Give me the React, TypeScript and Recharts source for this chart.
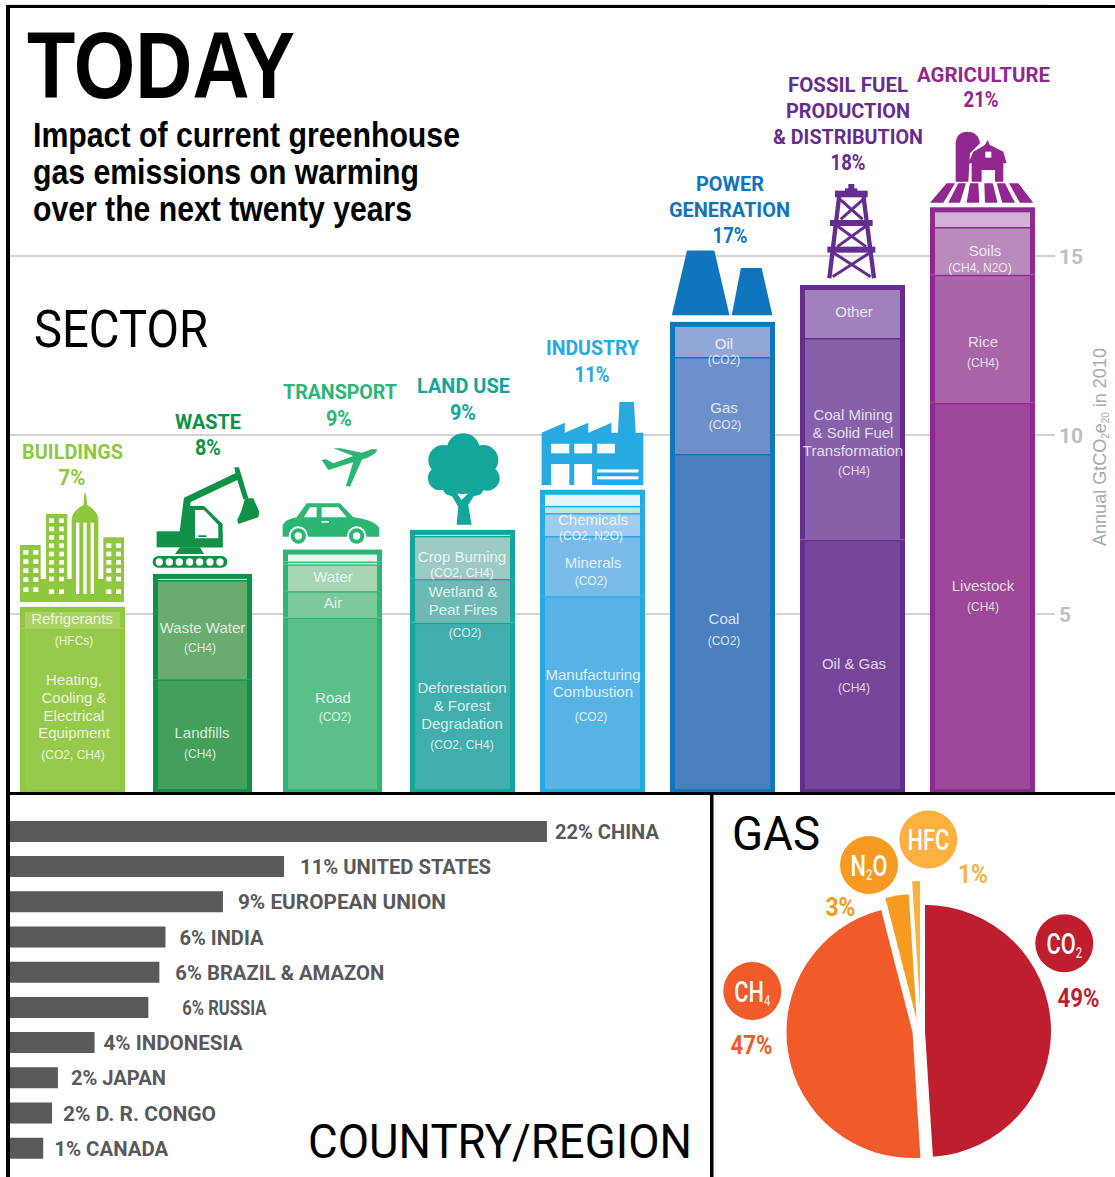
import { BarChart, Bar, XAxis, YAxis, CartesianGrid, LabelList, PieChart, Pie, Cell } from "recharts";

const DISPLAY = 'Roboto, "Liberation Sans", Arial, sans-serif';
const ARIAL = '"Liberation Sans", Arial, sans-serif';

// sector bars, bottom segment first, GtCO2e20
const sectors = ["Buildings", "Waste", "Transport", "Land use", "Industry", "Power generation", "Fossil fuel", "Agriculture"];
const tier1 = [4.6, 3.18, 4.9, 4.76, 5.5, 9.47, 7.08, 10.9];
const tier2 = [0.6, 2.77, 0.74, 1.22, 1.68, 2.71, 5.63, 3.58];
const tier3 = [0, 0.17, 0.75, 1.2, 0.64, 0.98, 1.48, 1.33];
const tier4 = [0, 0, 0.08, 0.17, 0.2, 0, 0, 0.55];
const tier5 = [0, 0, 0.33, 0, 0.45, 0, 0, 0];
const tiers = [tier1, tier2, tier3, tier4, tier5];

const sectorBorders = ["#8fc73e", "#0f9148", "#2cb673", "#14a69b", "#27aae1", "#0f75bc", "#662d91", "#92278f"];
const tierFills = [
  ["#97ca4c", "#43a05a", "#5bbf8a", "#40aead", "#57b3e6", "#4a80c0", "#764499", "#9c4898"],
  ["#a9d163", "#6aab70", "#7dc79c", "#6fb9b4", "#79bbe8", "#6c90ca", "#8660a9", "#a964a8"],
  ["#a9d163", "#d3e8d6", "#a5d5b3", "#9ccbc6", "#a0cdee", "#8fa8d8", "#a081bb", "#ba8abd"],
  ["#a9d163", "#d3e8d6", "#cfe9d8", "#d5ebe8", "#c0e0f5", "#8fa8d8", "#a081bb", "#d0b2d4"],
  ["#a9d163", "#d3e8d6", "#e8f5ec", "#d5ebe8", "#e8f4fb", "#8fa8d8", "#a081bb", "#d0b2d4"],
];
const barInsets = [0, 3, 3, 0, 0, 0, 0, 0];

const sectorData = sectors.map((name, i) => ({
  name,
  tier1: tier1[i],
  tier2: tier2[i],
  tier3: tier3[i],
  tier4: tier4[i],
  tier5: tier5[i],
}));

// country bars
const countries = ["China", "United States", "European Union", "India", "Brazil & Amazon", "Russia", "Indonesia", "Japan", "D. R. Congo", "Canada"];
const countryValues = [22, 11.25, 8.75, 6.4, 6.15, 5.7, 3.5, 2, 1.76, 1.4];
const countryLabels = ["22% CHINA", "11% UNITED STATES", "9% EUROPEAN UNION", "6% INDIA", "6% BRAZIL & AMAZON", "6% RUSSIA", "4% INDONESIA", "2% JAPAN", "2% D. R. CONGO", "1% CANADA"];
const countryLabelGaps = [8, 16, 15, 14, 16, 34, 9, 13, 11, 11];
const countryLabelWidths = [104, 191, 208, 84, 209, 84, 139, 95, 153, 114];
const countryData = countries.map((name, i) => ({ name, value: countryValues[i], label: countryLabels[i] }));

// gas slices, each pulled out of the pie by its own centre
const gases = ["CO2", "CH4", "N2O", "HFC"];
const gasShares = [49, 47, 3, 1];
const gasColors = ["#be1e2d", "#f15a29", "#f79a22", "#fbb040"];
const gasCentres = [
  [213, 238],
  [200.5, 239],
  [204.7, 227],
  [208, 214],
];
const gasData = gases.map((name, i) => ({ name, value: gasShares[i] }));

const headers: [string, number, number, number, string][] = [
  ["BUILDINGS", 72.5, 458.5, 101, sectorBorders[0]],
  ["7%", 72, 485, 27, sectorBorders[0]],
  ["WASTE", 208, 429, 66, sectorBorders[1]],
  ["8%", 208, 455, 26, sectorBorders[1]],
  ["TRANSPORT", 340, 399, 114, sectorBorders[2]],
  ["9%", 339, 426, 26, sectorBorders[2]],
  ["LAND USE", 463.5, 393, 93, sectorBorders[3]],
  ["9%", 463, 420, 26, sectorBorders[3]],
  ["INDUSTRY", 592.5, 355, 93, sectorBorders[4]],
  ["11%", 592, 382, 35, sectorBorders[4]],
  ["POWER", 730, 191, 68, sectorBorders[5]],
  ["GENERATION", 729.5, 217, 121, sectorBorders[5]],
  ["17%", 730, 243, 35, sectorBorders[5]],
  ["FOSSIL FUEL", 848, 92, 120, sectorBorders[6]],
  ["PRODUCTION", 848, 118, 124, sectorBorders[6]],
  ["& DISTRIBUTION", 848, 144, 150, sectorBorders[6]],
  ["18%", 848, 170, 35, sectorBorders[6]],
  ["AGRICULTURE", 983.5, 82, 133, sectorBorders[7]],
  ["21%", 981, 107, 35, sectorBorders[7]],
];

// text inside the bars: centre x, centre y, text, small
const segmentLabels: [number, number, string, boolean][] = [
  [72, 618, "Refrigerants", false], [74, 641, "(HFCs)", true], [74, 679, "Heating,", false], [74, 697, "Cooling &", false],
  [74, 715, "Electrical", false], [74, 732, "Equipment", false], [73, 755, "(CO2, CH4)", true],
  [202.5, 627, "Waste Water", false], [200, 648, "(CH4)", true], [202, 732, "Landfills", false], [200, 754, "(CH4)", true],
  [333, 576, "Water", false], [333, 602, "Air", false], [333, 697, "Road", false], [335, 717, "(CO2)", true],
  [462, 556, "Crop Burning", false], [462, 573, "(CO2, CH4)", true], [463, 591, "Wetland &", false], [463, 609, "Peat Fires", false],
  [465, 633, "(CO2)", true], [462, 687, "Deforestation", false], [462, 705, "& Forest", false], [462, 723, "Degradation", false], [462, 745, "(CO2, CH4)", true],
  [593, 519, "Chemicals", false], [591, 536, "(CO2, N2O)", true], [593, 562, "Minerals", false], [591, 581, "(CO2)", true],
  [593, 674, "Manufacturing", false], [593, 691, "Combustion", false], [591, 717, "(CO2)", true],
  [724, 343, "Oil", false], [724, 360, "(CO2)", true], [724, 407, "Gas", false], [725, 425, "(CO2)", true], [724, 618, "Coal", false], [724, 641, "(CO2)", true],
  [854, 311, "Other", false], [853, 414, "Coal Mining", false], [853, 432, "& Solid Fuel", false], [853, 450, "Transformation", false],
  [854, 471, "(CH4)", true], [854, 663, "Oil & Gas", false], [854, 688, "(CH4)", true],
  [985, 250, "Soils", false], [980, 268, "(CH4, N2O)", true], [983, 341, "Rice", false], [983, 363, "(CH4)", true], [983, 585, "Livestock", false], [983, 607, "(CH4)", true],
];

const tierShape = (tier: number) => (p: any) => {
  const { x, y, width, height, index } = p;
  if (!height || height <= 0) return <g />;
  const isTop = tiers.slice(tier + 1).every((t) => !t[index]);
  const inset = barInsets[index];
  const topGap = isTop ? 5 : 1.5;
  const bottomGap = tier === 0 ? 4 : 0;
  return (
    <g>
      <rect x={x + inset} y={y} width={width - inset * 2} height={height} fill={sectorBorders[index]} />
      <rect
        x={x + inset + 5}
        y={y + topGap}
        width={width - inset * 2 - 10}
        height={Math.max(height - topGap - bottomGap, 0)}
        fill={tierFills[tier][index]}
      />
    </g>
  );
};

const countryLabel = (p: any) => {
  const { x, y, width, height, index } = p;
  return (
    <text
      x={x + width + countryLabelGaps[index]}
      y={y + height / 2 + 7.5}
      fontFamily={DISPLAY}
      fontWeight={700}
      fontSize={21}
      fill="#58595b"
      textLength={countryLabelWidths[index]}
      lengthAdjust="spacingAndGlyphs"
    >
      {countryLabels[index]}
    </text>
  );
};

function Fit({ x, y, w, size, fill = "#000", weight = 700, family = DISPLAY, anchor = "start", children }: any) {
  return (
    <text x={x} y={y} fontSize={size} fill={fill} fontWeight={weight} fontFamily={family} textAnchor={anchor} textLength={w} lengthAdjust="spacingAndGlyphs">
      {children}
    </text>
  );
}

function Badge({ cx, cy, fill, main, sub, tail }: any) {
  return (
    <g>
      <circle cx={cx} cy={cy} r={29} fill={fill} />
      <g transform={`translate(${cx} ${cy + 10.5}) scale(0.75 1)`}>
        <text textAnchor="middle" fontFamily={DISPLAY} fontWeight={500} fontSize={29} fill="#fff">
          {main}
          {sub && (
            <tspan fontSize={15} dy={4} fillOpacity={0.85}>
              {sub}
            </tspan>
          )}
          {tail && <tspan dy={-4}>{tail}</tspan>}
        </text>
      </g>
    </g>
  );
}

function Windows({ xs, ys, w, h }: any) {
  return xs.flatMap((x: number) => ys.map((y: number) => <rect key={`${x}-${y}`} x={x} y={y} width={w} height={h} fill="#fff" />));
}

function Icons() {
  return (
    <g>
      {/* icons drawn in the 3x crop coordinates */}
      <g transform="translate(0 430) scale(0.3333)">
        <g fill={sectorBorders[0]}>
          <rect x={60} y={447} width={312} height={69} />
          <rect x={60} y={345} width={62} height={120} />
          <rect x={138} y={252} width={64} height={230} />
          <path d="M215 490 V265 Q220 240 250 225 L254 190 L258 190 L262 225 Q290 240 295 265 V490 Z" />
          <rect x={310} y={322} width={62} height={140} />
        </g>
        <Windows xs={[70, 100]} ys={[360, 388, 415, 442, 472]} w={15} h={14} />
        <Windows xs={[147, 177]} ys={[265, 290, 315, 340, 365, 390, 415, 440, 478]} w={15} h={14} />
        <Windows xs={[228, 250, 272]} ys={[278]} w={10} h={214} />
        <Windows xs={[319, 348]} ys={[340, 365, 390, 415, 440, 478]} w={15} h={14} />
        <rect x={60} y={495} width={312} height={21} fill={sectorBorders[0]} />

        <g fill={sectorBorders[1]}>
          <rect x={458} y={378} width={224} height={35} rx={17} />
          <rect x={470} y={304} width={198} height={48} />
          <path d="M525 372 L540 352 H600 L612 372 Z" />
          <path d="M533 352 L552 203 L706 130 L703 112 L717 112 L745 205 L730 208 L712 150 L572 216 L555 352 Z" />
          <path d="M570 228 H612 L668 282 V352 H545 Z" />
          <path d="M735 205 L760 205 L778 245 L775 262 L715 282 L712 270 L725 240 Z" />
        </g>
        <path d="M585 240 H612 L655 285 V325 H585 Z" fill="#fff" />
        <rect x={595} y={316} width={25} height={5} fill={sectorBorders[1]} />
        {[478, 508, 538, 569, 599, 630, 660].map((cx) => (
          <circle key={cx} cx={cx} cy={396} r={11} fill="#fff" />
        ))}

        <g fill={sectorBorders[2]}>
          <path d="M848 320 V285 Q855 268 890 262 L920 220 H1020 L1060 262 Q1125 270 1138 295 V320 Z" />
          <path d="M1132 58 Q1130 72 1100 84 L985 120 L965 90 L978 88 L1000 100 L1060 78 L1000 55 H1022 L1085 68 L1115 58 Z" />
          <path d="M1060 95 L1087 86 L1050 170 L1038 168 Z" />
        </g>
        <path d="M912 262 L930 232 H950 V262 Z M965 232 H1015 L1040 262 H965 Z" fill="#fff" />
        <rect x={965} y={273} width={22} height={5} fill="#fff" />
        {[895, 1070].map((cx) => (
          <g key={cx}>
            <circle cx={cx} cy={318} r={29} fill="#fff" />
            <circle cx={cx} cy={318} r={23} fill={sectorBorders[2]} />
            <circle cx={cx} cy={318} r={11} fill="#fff" />
          </g>
        ))}

        <g fill={sectorBorders[3]}>
          {[
            [1390, 60, 50],
            [1330, 90, 45],
            [1450, 90, 45],
            [1320, 145, 36],
            [1462, 145, 37],
            [1390, 130, 62],
            [1355, 170, 28],
            [1425, 170, 28],
          ].map(([cx, cy, r]) => (
            <circle key={`${cx}-${cy}`} cx={cx} cy={cy} r={r} />
          ))}
          <path d="M1370 284 L1375 230 L1345 180 L1360 175 L1385 210 L1415 180 L1430 185 L1405 225 L1415 284 Z" />
        </g>
      </g>

      <g transform="translate(520 200) scale(0.3795 0.3827)">
        <path
          d="M57 745 V608 L118 582 V608 L180 582 V608 L241 582 V608 H258 L262 528 H300 L305 608 H325 V745 H190 V690 H143 V745 H130 V690 H82 V745 Z"
          fill={sectorBorders[4]}
        />
        <rect x={82} y={637} width={48} height={25} fill="#fff" />
        <rect x={143} y={637} width={47} height={25} fill="#fff" />
        <rect x={203} y={637} width={47} height={25} fill="#fff" />
        <rect x={203} y={704} width={109} height={8} fill="#fff" />
        <rect x={203} y={722} width={109} height={8} fill="#fff" />
        <path d="M400 301 L440 132 H512 L552 301 Z M558 301 L582 178 H637 L665 301 Z" fill={sectorBorders[5]} />
      </g>

      <g transform="translate(800 120) scale(0.3333)">
        <g stroke={sectorBorders[6]} strokeWidth={9} fill="none">
          <path d="M118 225 L88 475 M190 225 L222 475" strokeWidth={13} />
          <path d="M122 240 L188 298 M188 240 L122 298 M112 318 L198 380 M198 318 L112 380 M100 398 L212 470 M210 398 L98 470" />
        </g>
        <g fill={sectorBorders[6]}>
          <rect x={105} y={212} width={98} height={20} />
          <rect x={135} y={205} width={37} height={15} />
          <rect x={145} y={192} width={18} height={20} />
          <rect x={90} y={300} width={128} height={18} />
          <rect x={82} y={380} width={144} height={18} />
        </g>
        <g fill={sectorBorders[7]}>
          <path d="M467 185 V70 Q470 35 502 35 Q535 35 540 70 L510 100 L505 185 Z" />
          <path d="M505 130 L520 95 L555 75 L563 60 L570 75 L610 95 L620 130 H610 V185 H585 V150 H545 V185 H515 V130 Z" />
          <path d="M440 190 H465 L430 248 H390 Z M475 190 H498 L480 248 H445 Z M510 190 H535 L538 248 H500 Z M553 190 H578 L593 248 H555 Z M590 190 H615 L645 248 H607 Z M627 190 H655 L700 248 H660 Z" />
        </g>
        <rect x={556} y={95} width={18} height={18} fill="#fff" />
      </g>
    </g>
  );
}

export default function App() {
  return (
    <div style={{ position: "absolute", left: 0, top: 0, width: 1115, height: 1177, background: "#fff", overflow: "hidden" }}>
      <div style={{ position: "absolute", left: 0, top: 0 }}>
        <BarChart width={1115} height={793} data={sectorData} margin={{ top: 5.4, right: 8, bottom: 0, left: 7 }} barSize={105}>
          <CartesianGrid vertical={false} stroke="#c6c6c6" strokeWidth={1.6} />
          <XAxis type="category" dataKey="name" hide />
          <YAxis
            orientation="right"
            type="number"
            width={60}
            domain={[0, 22]}
            ticks={[5, 10, 15]}
            axisLine={false}
            tickSize={8}
            tickMargin={4}
            tickLine={{ stroke: "#c6c6c6", strokeWidth: 1.6 }}
            tick={{ fill: "#bcbec0", fontSize: 21, fontWeight: 700, fontFamily: DISPLAY, dy: 1 }}
          />
          {tiers.map((_, t) => (
            <Bar key={t} dataKey={`tier${t + 1}`} stackId="sector" isAnimationActive={false} shape={tierShape(t)} />
          ))}
        </BarChart>
      </div>

      <div style={{ position: "absolute", left: 0, top: 800 }}>
        <BarChart
          width={710}
          height={377}
          layout="vertical"
          data={countryData}
          margin={{ top: 13.9, right: 0, bottom: 11.1, left: 9 }}
          barSize={21}
        >
          <XAxis type="number" hide domain={[0, 28.67]} />
          <YAxis type="category" dataKey="name" hide />
          <Bar dataKey="value" fill="#58595b" isAnimationActive={false}>
            <LabelList dataKey="label" content={countryLabel} />
          </Bar>
        </BarChart>
      </div>

      <div style={{ position: "absolute", left: 712, top: 793 }}>
        <PieChart width={403} height={384} margin={{ top: 0, right: 0, bottom: 0, left: 0 }}>
          {gasCentres.map(([cx, cy], g) => (
            <Pie
              key={gases[g]}
              data={gasData}
              dataKey="value"
              nameKey="name"
              cx={cx}
              cy={cy}
              outerRadius={126}
              innerRadius={0}
              startAngle={90}
              endAngle={-270}
              stroke="none"
              isAnimationActive={false}
            >
              {gasData.map((d, i) => (
                <Cell key={d.name} fill={i === g ? gasColors[i] : "transparent"} />
              ))}
            </Pie>
          ))}
        </PieChart>
      </div>

      <svg width={1115} height={1177} style={{ position: "absolute", left: 0, top: 0, pointerEvents: "none" }}>
        <Icons />

        <rect x={6} y={5} width={1109} height={3} fill="#000" />
        <rect x={6} y={5} width={4} height={1172} fill="#000" />
        <rect x={6} y={792} width={1109} height={3} fill="#000" />
        <rect x={710} y={792} width={3.5} height={385} fill="#000" />

        <Fit x={27} y={98} w={268} size={95} family={ARIAL}>TODAY</Fit>
        <Fit x={33} y={147} w={427} size={35} family={ARIAL}>Impact of current greenhouse</Fit>
        <Fit x={33} y={184} w={386} size={35} family={ARIAL}>gas emissions on warming</Fit>
        <Fit x={33} y={221} w={379} size={35} family={ARIAL}>over the next twenty years</Fit>
        <Fit x={34} y={347} w={174} size={51} weight={400}>SECTOR</Fit>
        <Fit x={308} y={1158} w={384} size={49} weight={400}>COUNTRY/REGION</Fit>
        <Fit x={732} y={850} w={88} size={49} weight={400}>GAS</Fit>

        {headers.map(([t, x, y, w, c]) => (
          <Fit key={`${t}-${x}`} x={x} y={y} w={w} size={t.endsWith("%") ? 22 : 21} fill={c} anchor="middle">
            {t}
          </Fit>
        ))}

        {segmentLabels.map(([x, y, t, small]) => (
          <text
            key={`${t}-${x}-${y}`}
            x={x}
            y={y}
            textAnchor="middle"
            dominantBaseline="central"
            fontFamily={ARIAL}
            fontSize={small ? 12 : 15}
            fill="#fff"
            fillOpacity={0.8}
          >
            {t}
          </text>
        ))}

        <text
          transform="translate(1106 447) rotate(-90)"
          textAnchor="middle"
          fontFamily={ARIAL}
          fontSize={18}
          fill="#a7a9ac"
        >
          Annual GtCO
          <tspan fontSize={10} dy={3}>2</tspan>
          <tspan dy={-3}>e</tspan>
          <tspan fontSize={10} dy={3}>20</tspan>
          <tspan dy={-3}> in 2010</tspan>
        </text>

        <Badge cx={928.3} cy={839.5} fill={gasColors[3]} main="HFC" />
        <Badge cx={869} cy={865} fill={gasColors[2]} main="N" sub="2" tail="O" />
        <Badge cx={1064.3} cy={943.3} fill={gasColors[0]} main="CO" sub="2" />
        <Badge cx={752.3} cy={991} fill={gasColors[1]} main="CH" sub="4" />
        <Fit x={973} y={883} w={30} size={25} fill={gasColors[3]} anchor="middle">1%</Fit>
        <Fit x={840.5} y={916} w={30} size={25} fill={gasColors[2]} anchor="middle">3%</Fit>
        <Fit x={1078.5} y={1007} w={42} size={25} fill={gasColors[0]} anchor="middle">49%</Fit>
        <Fit x={751.5} y={1054} w={42} size={25} fill={gasColors[1]} anchor="middle">47%</Fit>
      </svg>
    </div>
  );
}
